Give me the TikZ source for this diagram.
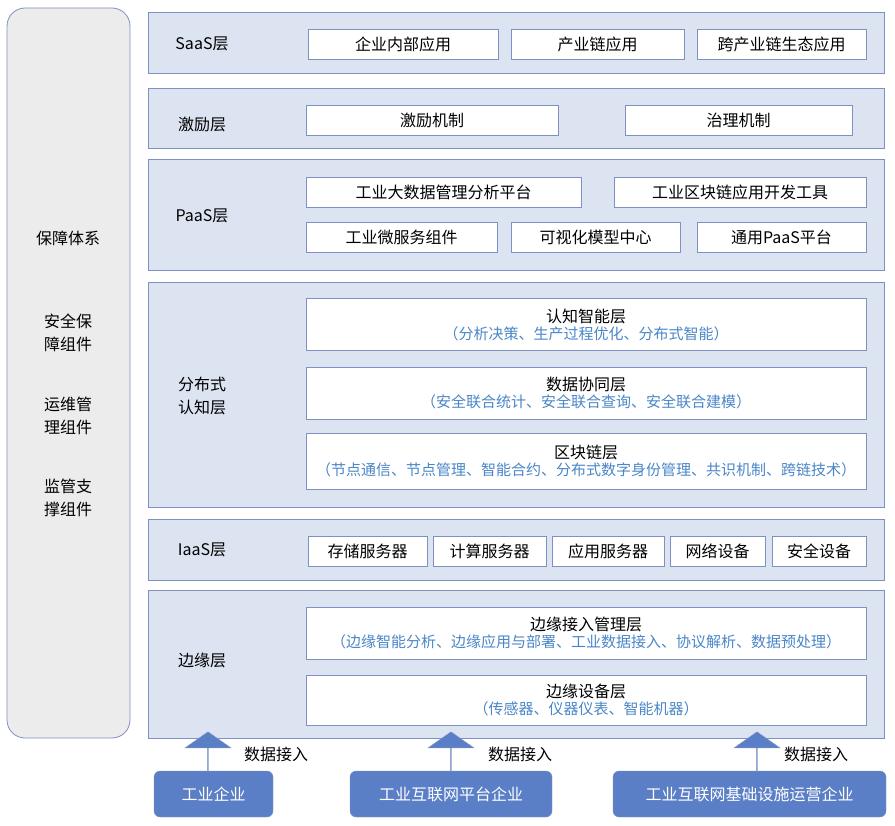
\documentclass[tikz,border=0pt]{standalone}
\usepackage{fontspec}
\setmainfont{Noto Sans CJK SC}
\usetikzlibrary{positioning,shapes.arrows}
\definecolor{layerfill}{HTML}{DCE4F2}
\definecolor{layerline}{HTML}{7F90C4}
\definecolor{subblue}{HTML}{4A86C8}
\definecolor{srcfill}{HTML}{5B7FC6}
\tikzset{
	x=1pt,y=-1pt,
	every node/.append style={font=\fontsize{16}{19}\selectfont, inner sep=0pt},
	layer/.style={draw=layerline, fill=layerfill, thick},
	box/.style={draw=layerline, fill=white, thick, minimum height=30pt},
	twobox/.style={draw=layerline, fill=white, thick, minimum height=52pt, minimum width=560pt, align=center},
	src/.style={draw=layerline, fill=srcfill, rounded corners=6pt, text=white, minimum height=46pt},
	upar/.style={single arrow, draw=layerline, fill=srcfill, shape border rotate=90, minimum height=40pt, minimum width=46pt, single arrow head extend=10pt, single arrow tip angle=110, inner sep=0pt},
}
\newcommand{\twoline}[2]{#1\\[-2pt]{\fontsize{15}{18}\selectfont\color{subblue}#2}}
\begin{document}
\begin{tikzpicture}
	\useasboundingbox (0,0) rectangle (895,826);
	% left panel
	\draw[draw=layerline, fill=gray!15, thick, rounded corners=18pt] (7,8) rectangle (130,738);
	\node (guard) at (68,238) {保障体系};
	\node[align=center] (safe) at (68,333) {安全保\\[4pt]障组件};
	\node[align=center] (ops) at (68,416) {运维管\\[4pt]理组件};
	\node[align=center] (sup) at (68,498) {监管支\\[4pt]撑组件};
	% layers
	\draw[layer] (148,12) rectangle (884,73);
	\draw[layer] (148,88) rectangle (884,148);
	\draw[layer] (148,159) rectangle (884,270);
	\draw[layer] (148,282) rectangle (884,507);
	\draw[layer] (148,519) rectangle (884,580);
	\draw[layer] (148,590) rectangle (884,738);
	\node (saas) at (202,44) {SaaS层};
	\node (inc) at (202,124) {激励层};
	\node (paas) at (202,216) {PaaS层};
	\node[align=center] (dist) at (202,396) {分布式\\[4pt]认知层};
	\node (iaas) at (202,550) {IaaS层};
	\node (edge) at (202,660) {边缘层};
	% SaaS
	\node[box, minimum width=190pt] (s1) at (403,44) {企业内部应用};
	\node[box, minimum width=173pt] (s2) at (597.5,44) {产业链应用};
	\node[box, minimum width=169pt] (s3) at (781.5,44) {跨产业链生态应用};
	% incentive
	\node[box, minimum width=252pt] (i1) at (432,120) {激励机制};
	\node[box, minimum width=227pt] (i2) at (738.5,120) {治理机制};
	% PaaS
	\node[box, minimum width=275pt] (p1) at (443.5,192) {工业大数据管理分析平台};
	\node[box, minimum width=252pt] (p2) at (740,192) {工业区块链应用开发工具};
	\node[box, minimum width=191pt] (p3) at (401.5,237.5) {工业微服务组件};
	\node[box, minimum width=169pt] (p4) at (595.5,237.5) {可视化模型中心};
	\node[box, minimum width=169pt] (p5) at (781.5,237.5) {通用PaaS平台};
	% distributed cognition
	\node[twobox] (cog) at (586,324.5) {\twoline{认知智能层}{（分析决策、生产过程优化、分布式智能）}};
	\node[twobox] (data) at (586,393) {\twoline{数据协同层}{（安全联合统计、安全联合查询、安全联合建模）}};
	\node[twobox, minimum height=56pt] (chain) at (586,461) {\twoline{区块链层}{（节点通信、节点管理、智能合约、分布式数字身份管理、共识机制、跨链技术）}};
	% IaaS
	\node[box, minimum width=119pt] (h1) at (367.5,551) {存储服务器};
	\node[box, minimum width=113pt] (h2) at (489.5,551) {计算服务器};
	\node[box, minimum width=112pt] (h3) at (608,551) {应用服务器};
	\node[box, minimum width=95pt] (h4) at (717.5,551) {网络设备};
	\node[box, minimum width=94pt] (h5) at (819,551) {安全设备};
	% edge
	\node[twobox] (eacc) at (586,633) {\twoline{边缘接入管理层}{（边缘智能分析、边缘应用与部署、工业数据接入、协议解析、数据预处理）}};
	\node[twobox, minimum height=50pt] (edev) at (586,700) {\twoline{边缘设备层}{（传感器、仪器仪表、智能机器）}};
	% sources
	\node[src, minimum width=119pt] (ent) at (213.5,794) {工业企业};
	\node[src, minimum width=202pt] (plat) at (451,794) {工业互联网平台企业};
	\node[src, minimum width=273pt] (infra) at (749.5,794) {工业互联网基础设施运营企业};
	\node[upar] (a1) at (208,752) {};
	\node[upar] (a2) at (451,752) {};
	\node[upar] (a3) at (757,752) {};
	\node (l1) at (276,754) {数据接入};
	\node (l2) at (520,754) {数据接入};
	\node (l3) at (816,754) {数据接入};
\end{tikzpicture}
\end{document}
